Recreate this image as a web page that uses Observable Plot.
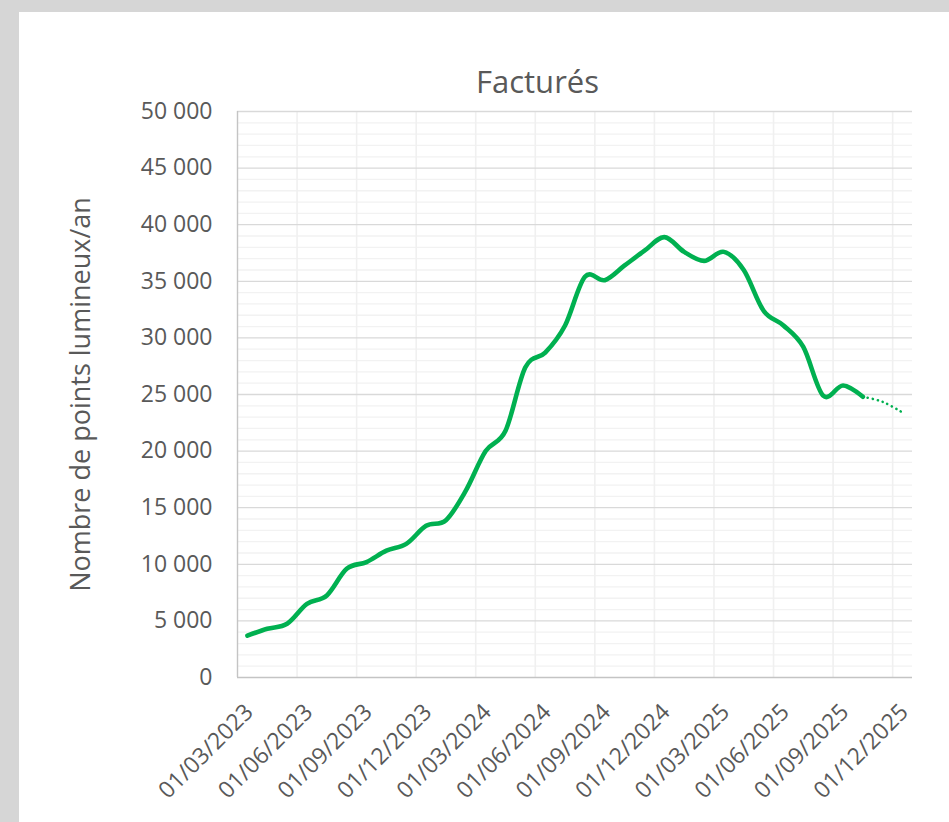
<!DOCTYPE html>
<html>
<head>
<meta charset="utf-8">
<script src="https://cdn.jsdelivr.net/npm/d3@7"></script>
<script src="https://cdn.jsdelivr.net/npm/@observablehq/plot@0.6"></script>
<style>
html, body { margin: 0; padding: 0; background: #d6d6d6; width: 949px; height: 822px; overflow: hidden; }
#panel { position: absolute; left: 19px; top: 12px; width: 930px; height: 810px; background: #ffffff; }
</style>
</head>
<body>
<div id="panel"></div>
<script>
// Monthly slots on the date axis (Excel "months" base unit)
const months = [
  "2023-03","2023-04","2023-05","2023-06","2023-07","2023-08","2023-09","2023-10","2023-11","2023-12",
  "2024-01","2024-02","2024-03","2024-04","2024-05","2024-06","2024-07","2024-08","2024-09","2024-10",
  "2024-11","2024-12","2025-01","2025-02","2025-03","2025-04","2025-05","2025-06","2025-07","2025-08",
  "2025-09","2025-10","2025-11","2025-12"
];

// Facturés – actual values (Mar 2023 → Oct 2025)
const facturesMonths = months.slice(0, 32);
const factures = [
  3700, 4300, 4750, 6500, 7250, 9600, 10200, 11200, 11800, 13400,
  13900, 16500, 20000, 21800, 27400, 28700, 31100, 35400, 35100, 36400,
  37700, 38900, 37600, 36800, 37600, 36000, 32400, 31100, 29200, 24900,
  25800, 24800
];

// Facturés – projection (dotted)
const projectionMonths = ["2025-10", "2025-11", "2025-12"];
const projection = [24800, 24350, 23400];

// Axis ticks
const xTickMonths = ["2023-03","2023-06","2023-09","2023-12","2024-03","2024-06","2024-09","2024-12","2025-03","2025-06","2025-09","2025-12"];
const xTickLabels = ["01/03/2023","01/06/2023","01/09/2023","01/12/2023","01/03/2024","01/06/2024","01/09/2024","01/12/2024","01/03/2025","01/06/2025","01/09/2025","01/12/2025"];
const yTicks = [0, 5000, 10000, 15000, 20000, 25000, 30000, 35000, 40000, 45000, 50000];
const yTickLabels = ["0","5 000","10 000","15 000","20 000","25 000","30 000","35 000","40 000","45 000","50 000"];
const yMinorStep = 1000;

const title = "Facturés";
const yTitle = "Nombre de points lumineux/an";

// Build tables
const slot = m => months.indexOf(m);
const actualData = facturesMonths.map((m, i) => ({x: slot(m) + 0.5, y: factures[i]}));
const projData = projectionMonths.map((m, i) => ({x: slot(m) + 0.5, y: projection[i]}));
const xTicks = xTickMonths.map((m, i) => ({edge: slot(m), center: slot(m) + 0.5, label: xTickLabels[i]}));
const yMinor = d3.range(0, 50001, yMinorStep).filter(v => v % 5000 !== 0);

const chart = Plot.plot({
  width: 930,
  height: 810,
  marginLeft: 218,
  marginRight: 37,
  marginTop: 99,
  marginBottom: 145,
  x: {type: "linear", domain: [0, months.length], axis: null},
  y: {domain: [0, 50000], axis: null},
  style: {fontFamily: "'Open Sans', sans-serif", color: "#595959", background: "transparent", overflow: "visible"},
  marks: [
    Plot.ruleY(yMinor, {stroke: "#f2f2f2", strokeWidth: 1.3}),
    Plot.ruleX(xTicks.slice(1), {x: "edge", stroke: "#f0f0f0", strokeWidth: 1.6}),
    Plot.ruleY(yTicks.slice(1), {stroke: "#d9d9d9", strokeWidth: 1.3}),
    Plot.ruleX([0], {stroke: "#c4c4c4", strokeWidth: 1.4}),
    Plot.ruleY([0], {stroke: "#c4c4c4", strokeWidth: 1.4}),
    Plot.line(actualData, {x: "x", y: "y", stroke: "#00b050", strokeWidth: 4.6, curve: "cardinal", tension: 0, strokeLinecap: "round", strokeLinejoin: "round"}),
    Plot.line(projData, {x: "x", y: "y", stroke: "#00b050", strokeWidth: 2.6, curve: "cardinal", tension: 0, strokeDasharray: "0.1 5", strokeLinecap: "round"}),
    Plot.text(yTicks, {x: 0, y: d => d, text: (d, i) => yTickLabels[i], textAnchor: "end", dx: -25, fontSize: 23, fill: "#595959"}),
    Plot.text(xTicks, {x: "center", frameAnchor: "bottom", text: "label", rotate: -45, textAnchor: "end", dx: 7, dy: 36, fontSize: 23, fill: "#595959"}),
    Plot.text([title], {frameAnchor: "top-left", textAnchor: "middle", dx: 300, dy: -41, fontSize: 31, fill: "#595959"}),
    Plot.text([yTitle], {frameAnchor: "left", textAnchor: "middle", dx: -156, rotate: -90, fontSize: 27, fill: "#595959"})
  ]
});
document.getElementById("panel").appendChild(chart);
</script>
</body>
</html>
